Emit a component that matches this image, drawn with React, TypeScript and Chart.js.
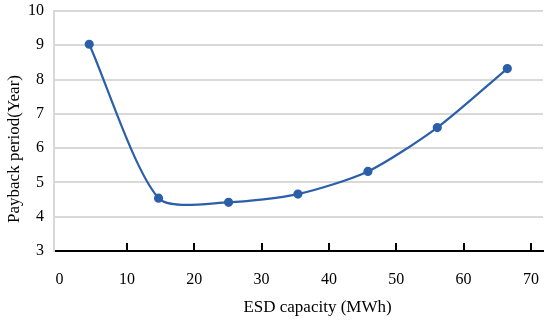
import React, { useEffect, useRef } from "react";
import { Chart, registerables } from "chart.js";

Chart.register(...registerables);

const capacity = [4.4, 14.7, 25.1, 35.4, 45.8, 56.1, 66.5];
const payback = [9.03, 4.54, 4.42, 4.66, 5.32, 6.6, 8.32];
const xTickValues = [0, 10, 20, 30, 40, 50, 60, 70];
const xTitle = "ESD capacity (MWh)";
const yTitle = "Payback period(Year)";

const FONT = "'Liberation Serif', 'DejaVu Serif', serif";
const LINE = "#2b5fa9";

const innerTicks = {
  id: "innerTicks",
  afterDatasetsDraw(chart: any) {
    const { ctx, chartArea, scales } = chart;
    const x = scales.x;
    ctx.save();
    ctx.strokeStyle = "#000";
    ctx.lineWidth = 2;
    for (const v of xTickValues) {
      if (v === 0) continue;
      const px = Math.round(x.getPixelForValue(v));
      ctx.beginPath();
      ctx.moveTo(px, chartArea.bottom);
      ctx.lineTo(px, chartArea.bottom - 8);
      ctx.stroke();
    }
    ctx.restore();
  },
};

const axisTitles = {
  id: "axisTitles",
  afterDraw(chart: any) {
    const { ctx, chartArea } = chart;
    ctx.save();
    ctx.fillStyle = "#000";
    ctx.font = `17px ${FONT}`;
    ctx.textAlign = "center";
    ctx.textBaseline = "middle";
    ctx.fillText(xTitle, (chartArea.left + chartArea.right) / 2 + 19, 308);
    ctx.translate(15, (chartArea.top + chartArea.bottom) / 2 + 18);
    ctx.rotate(-Math.PI / 2);
    ctx.fillText(yTitle, 0, 0);
    ctx.restore();
  },
};

export default function App() {
  const ref = useRef<HTMLCanvasElement | null>(null);
  useEffect(() => {
    if (!ref.current) return;
    const chart = new Chart(ref.current, {
      type: "line",
      data: {
        datasets: [
          {
            data: capacity.map((c, i) => ({ x: c, y: payback[i] })),
            borderColor: LINE,
            backgroundColor: LINE,
            borderWidth: 2.2,
            pointRadius: 3.5,
            pointBackgroundColor: LINE,
            pointBorderColor: LINE,
            tension: 0.25,
          },
        ],
      },
      options: {
        animation: false,
        responsive: false,
        maintainAspectRatio: false,
        layout: { padding: { top: 11, right: 7, left: 0, bottom: 0 } },
        plugins: { legend: { display: false }, tooltip: { enabled: false } },
        scales: {
          x: {
            type: "linear",
            min: -0.83,
            max: 71.8,
            afterBuildTicks: (scale: any) => {
              scale.ticks = xTickValues.map((v) => ({ value: v }));
            },
            afterFit: (scale: any) => {
              scale.height = 71;
              scale.paddingLeft = 0;
              scale.paddingRight = 0;
            },
            grid: { display: false, drawTicks: false },
            border: { display: true, color: "#000", width: 2 },
            ticks: {
              padding: 19,
              color: "#000",
              font: { family: FONT, size: 16 },
              maxRotation: 0,
            },
          },
          y: {
            min: 3,
            max: 10,
            afterFit: (scale: any) => {
              scale.width = 54;
              scale.paddingTop = 0;
              scale.paddingBottom = 0;
            },
            ticks: {
              stepSize: 1,
              padding: 10,
              color: "#000",
              font: { family: FONT, size: 16 },
            },
            grid: { color: "#d9d9d9", lineWidth: 2, drawTicks: false },
            border: { display: true, color: "#d9d9d9", width: 2 },
          },
        },
      },
      plugins: [innerTicks, axisTitles],
    });
    return () => chart.destroy();
  }, []);
  return (
    <div style={{ position: "fixed", left: 0, top: 0, width: 550, height: 322, background: "#fff" }}>
      <canvas ref={ref} width={550} height={322} style={{ width: 550, height: 322 }} />
    </div>
  );
}
